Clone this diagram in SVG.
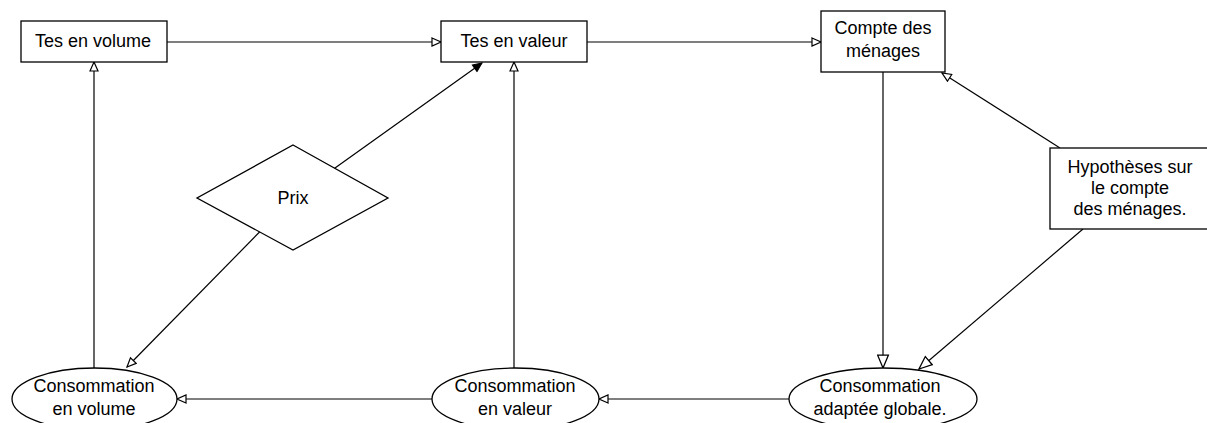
<svg xmlns="http://www.w3.org/2000/svg" width="1207" height="423" viewBox="0 0 1207 423">
<style>
.shape{fill:#fff;stroke:#000;stroke-width:1.3}
.t{font-family:"Liberation Sans",Arial,sans-serif;font-size:18px;fill:#000;text-anchor:middle}
.c{fill:none;stroke:#000;stroke-width:1.2}
</style>
<defs>
<marker id="open" markerUnits="userSpaceOnUse" markerWidth="12" markerHeight="10" viewBox="-1 -1 11 10" refX="9" refY="4" orient="auto">
<path d="M0,0 L9,4 L0,8 Z" fill="#fff" stroke="#000" stroke-width="1.2"/>
</marker>
<marker id="openL" markerUnits="userSpaceOnUse" markerWidth="15" markerHeight="13" viewBox="-1 -1 14 12" refX="12" refY="5" orient="auto">
<path d="M0,0 L12,5 L0,10 Z" fill="#fff" stroke="#000" stroke-width="1.2"/>
</marker>
<marker id="filled" markerUnits="userSpaceOnUse" markerWidth="12" markerHeight="10" viewBox="-1 -1 11 10" refX="9" refY="4" orient="auto">
<path d="M0,0 L9,4 L0,8 Z" fill="#000" stroke="#000" stroke-width="1"/>
</marker>
</defs>
<rect width="1207" height="423" fill="#fff"/>
<g id="connectors">
<line class="c" x1="167" y1="42" x2="441" y2="42" marker-end="url(#open)"/>
<line class="c" x1="587" y1="42" x2="821" y2="42" marker-end="url(#open)"/>
<line class="c" x1="94" y1="368" x2="94" y2="62" marker-end="url(#open)"/>
<line class="c" x1="514" y1="368" x2="514" y2="62" marker-end="url(#open)"/>
<line class="c" x1="293" y1="198" x2="482" y2="63" marker-end="url(#filled)"/>
<line class="c" x1="293" y1="198" x2="127" y2="367" marker-end="url(#open)"/>
<line class="c" x1="883" y1="72" x2="883" y2="368" marker-end="url(#openL)"/>
<line class="c" x1="1060" y1="148" x2="942" y2="73" marker-end="url(#open)"/>
<line class="c" x1="1083" y1="229" x2="919" y2="369" marker-end="url(#openL)"/>
<line class="c" x1="789" y1="399" x2="599" y2="399" marker-end="url(#open)"/>
<line class="c" x1="432" y1="399" x2="177" y2="399" marker-end="url(#open)"/>
</g>
<g id="tes-volume">
<rect class="shape" x="21" y="21" width="146" height="41"/>
<text class="t" x="93" y="47">Tes en volume</text>
</g>
<g id="tes-valeur">
<rect class="shape" x="441" y="21" width="146" height="41"/>
<text class="t" x="514" y="47">Tes en valeur</text>
</g>
<g id="compte-menages">
<rect class="shape" x="821" y="11" width="124" height="61"/>
<text class="t" x="883" y="34">Compte des</text>
<text class="t" x="883" y="57">ménages</text>
</g>
<g id="hypotheses">
<rect class="shape" x="1050" y="148" width="160" height="81"/>
<text class="t" x="1130" y="173">Hypothèses sur</text>
<text class="t" x="1130" y="194">le compte</text>
<text class="t" x="1130" y="215">des ménages.</text>
</g>
<g id="prix">
<polygon class="shape" points="293,145 388,198 293,250 197,198"/>
<text class="t" x="293" y="204">Prix</text>
</g>
<g id="conso-volume">
<ellipse class="shape" cx="94.5" cy="399" rx="82.5" ry="31"/>
<text class="t" x="94" y="392">Consommation</text>
<text class="t" x="94" y="415">en volume</text>
</g>
<g id="conso-valeur">
<ellipse class="shape" cx="515.5" cy="399" rx="83.5" ry="31"/>
<text class="t" x="515" y="392">Consommation</text>
<text class="t" x="515" y="415">en valeur</text>
</g>
<g id="conso-globale">
<ellipse class="shape" cx="883" cy="399" rx="94" ry="31"/>
<text class="t" x="880" y="392">Consommation</text>
<text class="t" x="880" y="415">adaptée globale.</text>
</g>
</svg>
